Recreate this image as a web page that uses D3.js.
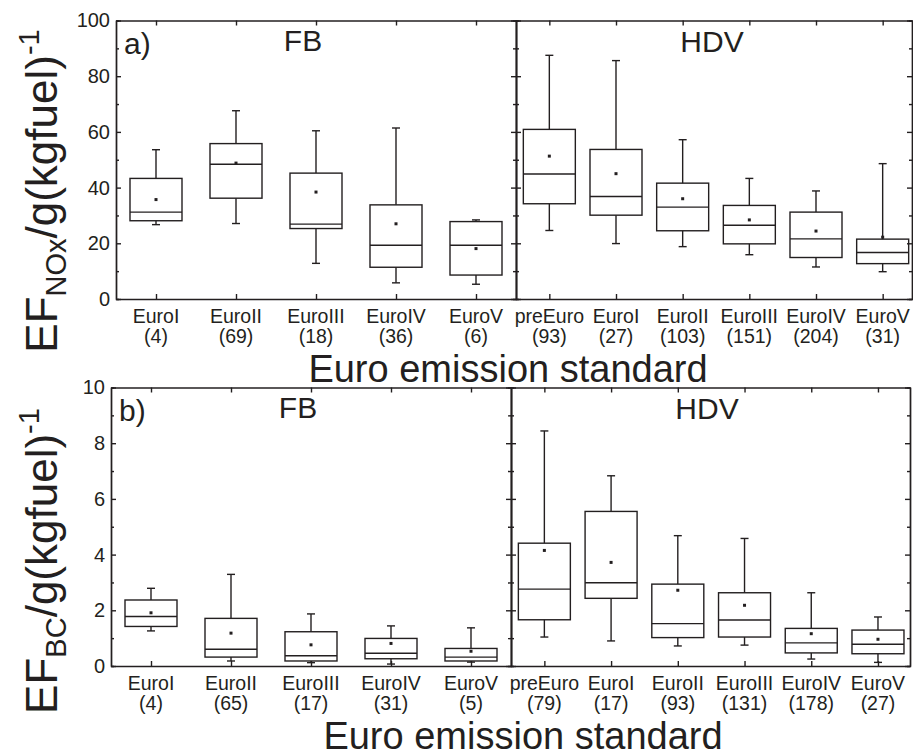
<!DOCTYPE html>
<html>
<head>
<meta charset="utf-8">
<script src="https://cdn.jsdelivr.net/npm/d3@7"></script>
<style>
  body { margin: 0; background: #fff; }
  text { font-family: "Liberation Sans", Arial, Helvetica, sans-serif; fill: #231f20; }
</style>
</head>
<body>
<div id="chart"></div>
<script>
(function () {

  // categories and sample counts (the numbers in brackets under each label)
  var fbCats = ["EuroI", "EuroII", "EuroIII", "EuroIV", "EuroV"],
    hdvCats = ["preEuro", "EuroI", "EuroII", "EuroIII", "EuroIV", "EuroV"],
    noxFbN = [4, 69, 18, 36, 6],
    noxHdvN = [93, 27, 103, 151, 204, 31],
    bcFbN = [4, 65, 17, 31, 5],
    bcHdvN = [79, 17, 93, 131, 178, 27];

  // box statistics per category: [whisker low, q1, median, q3, whisker high, mean]
  var noxFb = [
    [26.7, 28.1, 31.2, 43.3, 53.6, 35.7],
    [27.1, 36.2, 48.4, 55.8, 67.6, 48.8],
    [12.8, 25.3, 26.9, 45.2, 60.4, 38.4],
    [5.8, 11.4, 19.3, 33.8, 61.4, 27.0],
    [5.3, 8.6, 19.3, 27.8, 28.4, 18.1]
  ];
  var noxHdv = [
    [24.6, 34.2, 44.9, 60.9, 87.5, 51.3],
    [19.9, 30.1, 36.8, 53.7, 85.6, 45.0],
    [18.8, 24.5, 33.0, 41.6, 57.2, 36.0],
    [15.9, 19.8, 26.5, 33.6, 43.3, 28.4],
    [11.5, 14.9, 21.6, 31.2, 38.8, 24.4],
    [9.8, 12.7, 16.7, 21.5, 48.6, 22.2]
  ];
  var bcFb = [
    [1.26, 1.42, 1.78, 2.37, 2.79, 1.91],
    [0.18, 0.32, 0.60, 1.71, 3.29, 1.18],
    [0.12, 0.18, 0.37, 1.23, 1.87, 0.76],
    [0.07, 0.26, 0.46, 0.99, 1.44, 0.81],
    [0.14, 0.18, 0.32, 0.63, 1.37, 0.53]
  ];
  var bcHdv = [
    [1.04, 1.66, 2.76, 4.41, 8.44, 4.15],
    [0.90, 2.43, 2.99, 5.55, 6.83, 3.72],
    [0.72, 1.02, 1.52, 2.94, 4.68, 2.72],
    [0.75, 1.04, 1.65, 2.63, 4.58, 2.18],
    [0.25, 0.47, 0.83, 1.35, 2.63, 1.16],
    [0.13, 0.44, 0.78, 1.29, 1.76, 0.96]
  ];

  var noxTicks = [0, 20, 40, 60, 80, 100],
    noxMinor = [10, 30, 50, 70, 90],
    bcTicks = [0, 2, 4, 6, 8, 10],
    bcMinor = [1, 3, 5, 7, 9];

  var w = 913,
    h = 756,
    ink = "#231f20",
    boxW = 52,
    capW = 8,
    svg;

  // panel layout (pixels)
  var panels = [
    { left: 116, mid: 516, right: 912, top: 20.5, bottom: 299, hdvMax: 6.44,
      domain: [0, 100], ticks: noxTicks, minor: noxMinor,
      fb: noxFb, hdv: noxHdv, fbN: noxFbN, hdvN: noxHdvN,
      tag: "a)", sub: "NOx", titleX: 508, titleY: 191 },
    { left: 111, mid: 511, right: 910, top: 387.5, bottom: 666, hdvMax: 6.48,
      domain: [0, 10], ticks: bcTicks, minor: bcMinor,
      fb: bcFb, hdv: bcHdv, fbN: bcFbN, hdvN: bcHdvN,
      tag: "b)", sub: "BC", titleX: 523, titleY: 561 }
  ];

  function createSvg() {
    svg = d3.select("#chart")
      .append("svg")
      .attr("width", w)
      .attr("height", h);
  }

  // frame + inward ticks on every side of one sub plot
  function drawFrame(g, x, y, cats, p, labels) {
    var x0 = x.range()[0], x1 = x.range()[1];
    var idx = cats.map(function (d, i) { return i + 1; });

    var left = d3.axisLeft(y).tickValues(p.ticks).tickSizeInner(-5).tickSizeOuter(0).tickPadding(6);
    if (!labels) left.tickFormat("");
    g.append("g").attr("transform", "translate(" + x0 + ",0)").call(left);
    g.append("g").attr("transform", "translate(" + x0 + ",0)")
      .call(d3.axisLeft(y).tickValues(p.minor).tickSize(-3).tickFormat(""));

    g.append("g").attr("transform", "translate(" + x1 + ",0)")
      .call(d3.axisRight(y).tickValues(p.ticks).tickSizeInner(-5).tickSizeOuter(0).tickFormat(""));
    g.append("g").attr("transform", "translate(" + x1 + ",0)")
      .call(d3.axisRight(y).tickValues(p.minor).tickSize(-3).tickFormat(""));

    g.append("g").attr("transform", "translate(0," + p.top + ")")
      .call(d3.axisTop(x).tickValues(idx).tickSizeInner(-5).tickSizeOuter(0).tickFormat(""));
    g.append("g").attr("transform", "translate(0," + p.bottom + ")")
      .call(d3.axisBottom(x).tickValues(idx).tickSizeInner(-5).tickSizeOuter(0).tickFormat(""));

    g.selectAll(".domain, .tick line").attr("stroke", ink).attr("stroke-width", 1.4);
    g.selectAll(".tick text")
      .style("font-size", "20px")
      .attr("fill", ink)
      .attr("font-family", "Liberation Sans, Arial, sans-serif");
  }

  function drawBoxes(g, x, y, stats) {
    var box = g.selectAll(".box")
      .data(stats).enter()
      .append("g")
      .attr("class", "box")
      .attr("fill", "none")
      .attr("stroke", ink)
      .attr("stroke-width", 1.4);

    // whiskers
    box.append("line")
      .attr("x1", function (d, i) { return x(i + 1); })
      .attr("x2", function (d, i) { return x(i + 1); })
      .attr("y1", function (d) { return y(d[4]); })
      .attr("y2", function (d) { return y(d[3]); });
    box.append("line")
      .attr("x1", function (d, i) { return x(i + 1); })
      .attr("x2", function (d, i) { return x(i + 1); })
      .attr("y1", function (d) { return y(d[1]); })
      .attr("y2", function (d) { return y(d[0]); });
    [0, 4].forEach(function (k) {
      box.append("line")
        .attr("x1", function (d, i) { return x(i + 1) - capW / 2; })
        .attr("x2", function (d, i) { return x(i + 1) + capW / 2; })
        .attr("y1", function (d) { return y(d[k]); })
        .attr("y2", function (d) { return y(d[k]); });
    });

    box.append("rect")
      .attr("x", function (d, i) { return x(i + 1) - boxW / 2; })
      .attr("y", function (d) { return y(d[3]); })
      .attr("width", boxW)
      .attr("height", function (d) { return y(d[1]) - y(d[3]); });

    // median
    box.append("line")
      .attr("x1", function (d, i) { return x(i + 1) - boxW / 2; })
      .attr("x2", function (d, i) { return x(i + 1) + boxW / 2; })
      .attr("y1", function (d) { return y(d[2]); })
      .attr("y2", function (d) { return y(d[2]); });

    // mean as a small dot
    box.append("rect")
      .attr("x", function (d, i) { return x(i + 1) - 1.5; })
      .attr("y", function (d) { return y(d[5]) - 1.5; })
      .attr("width", 3)
      .attr("height", 3)
      .attr("stroke", "none")
      .attr("fill", ink);
  }

  // two line category label: name and (n)
  function drawCatLabels(g, x, cats, counts, p) {
    g.selectAll(".catName")
      .data(cats).enter()
      .append("text")
      .attr("class", "catName")
      .attr("x", function (d, i) { return x(i + 1); })
      .attr("y", p.bottom + 23.5)
      .attr("text-anchor", "middle")
      .style("font-size", "19.5px")
      .text(function (d) { return d; });
    g.selectAll(".catN")
      .data(counts).enter()
      .append("text")
      .attr("class", "catN")
      .attr("x", function (d, i) { return x(i + 1); })
      .attr("y", p.bottom + 43.5)
      .attr("text-anchor", "middle")
      .style("font-size", "19.5px")
      .text(function (d) { return "(" + d + ")"; });
  }

  function drawPanel(p) {
    var y = d3.scaleLinear().domain(p.domain).range([p.bottom, p.top]);
    var xFb = d3.scaleLinear().domain([0.5, fbCats.length + 0.5]).range([p.left, p.mid]);
    var xHdv = d3.scaleLinear().domain([0.5, p.hdvMax]).range([p.mid, p.right]);

    var gFb = svg.append("g"),
      gHdv = svg.append("g");

    drawFrame(gFb, xFb, y, fbCats, p, true);
    drawFrame(gHdv, xHdv, y, hdvCats, p, false);
    drawBoxes(gFb, xFb, y, p.fb);
    drawBoxes(gHdv, xHdv, y, p.hdv);
    drawCatLabels(gFb, xFb, fbCats, p.fbN, p);
    drawCatLabels(gHdv, xHdv, hdvCats, p.hdvN, p);

    var lab = svg.append("g").style("font-size", "30px");
    lab.append("text").attr("x", p.left + 8).attr("y", p.top + 33).text(p.tag);
    lab.append("text").attr("x", p.left + 187).attr("y", p.top + 30.5)
      .attr("text-anchor", "middle").text("FB");
    lab.append("text").attr("x", p.mid + 196).attr("y", p.top + 31)
      .attr("text-anchor", "middle").text("HDV");

    // x title
    svg.append("text")
      .attr("x", p.titleX)
      .attr("y", p.bottom + 83)
      .attr("text-anchor", "middle")
      .style("font-size", "38px")
      .text("Euro emission standard");

    // y title with subscript and superscript
    var yt = svg.append("text")
      .attr("transform", "translate(57," + p.titleY + ") rotate(-90)")
      .attr("text-anchor", "middle")
      .style("font-size", "44px");
    yt.append("tspan").text("EF");
    yt.append("tspan").attr("dy", 9).style("font-size", "29px").text(p.sub);
    yt.append("tspan").attr("dy", -9).text("/g(kgfuel)");
    yt.append("tspan").attr("dy", -18).style("font-size", "29px").text("-1");
  }

  createSvg();
  panels.forEach(drawPanel);
})();
</script>
</body>
</html>
